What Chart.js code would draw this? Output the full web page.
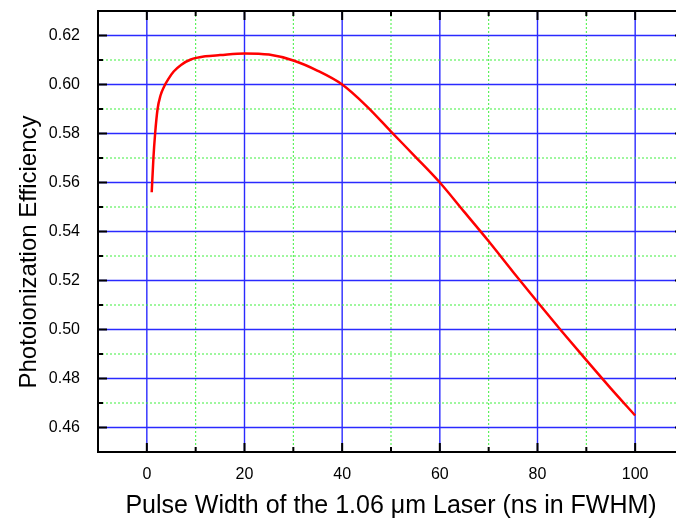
<!DOCTYPE html>
<html>
<head>
<meta charset="utf-8">
<script src="https://cdn.jsdelivr.net/npm/chart.js@4/dist/chart.umd.min.js"></script>
<style>
  html, body { margin: 0; padding: 0; background: #fff; overflow: hidden; }
  #wrap { width: 690px; height: 523px; }
</style>
</head>
<body>
<div id="wrap"><canvas id="effChart" width="690" height="523"></canvas></div>
<script>
// values
const pulseWidth = [1, 1.35, 1.7, 2.2, 2.8, 3.5, 4.5, 5.5, 7, 9, 12, 15, 20, 25, 30, 35, 40, 45, 50, 55, 60, 65, 70, 75, 80, 85, 90, 95, 100];
const efficiency = [0.556, 0.570, 0.580, 0.590, 0.5955, 0.599, 0.6025, 0.6053, 0.608, 0.6102, 0.6115, 0.612, 0.6127, 0.6122, 0.6098, 0.6056, 0.600, 0.5912, 0.5808, 0.5705, 0.560, 0.548, 0.536, 0.5235, 0.5112, 0.4992, 0.4875, 0.476, 0.4649];
const xLabels = [0, 20, 40, 60, 80, 100];
const yLabels = [0.46, 0.48, 0.50, 0.52, 0.54, 0.56, 0.58, 0.60, 0.62];
const yTitle = 'Photoionization Efficiency';

const FONT = 'Arial, "Liberation Sans", sans-serif';

// grid, frame and inward tick marks, drawn from the chart's own scales
const framePlugin = {
  id: 'frame',
  beforeDatasetsDraw(chart) {
    const {ctx, chartArea: a, scales: {x, y}} = chart;
    ctx.save();
    x.ticks.forEach(t => {
      const v = Math.round(t.value);
      if (v <= x.min || v >= x.max) return;
      const px = x.getPixelForValue(v);
      ctx.beginPath();
      if (v % 20 === 0) { ctx.strokeStyle = '#2a2aff'; ctx.lineWidth = 1.4; ctx.setLineDash([]); }
      else { ctx.strokeStyle = '#3ef03e'; ctx.lineWidth = 1; ctx.setLineDash([2, 2]); }
      ctx.moveTo(px, a.top); ctx.lineTo(px, a.bottom); ctx.stroke();
    });
    y.ticks.forEach(t => {
      const k = Math.round(t.value * 100);
      if (k <= Math.round(y.min * 100) || k >= Math.round(y.max * 100)) return;
      const py = y.getPixelForValue(k / 100);
      ctx.beginPath();
      if (k % 2 === 0) { ctx.strokeStyle = '#2a2aff'; ctx.lineWidth = 1.4; ctx.setLineDash([]); }
      else { ctx.strokeStyle = '#3ef03e'; ctx.lineWidth = 1; ctx.setLineDash([2, 2]); }
      ctx.moveTo(a.left, py); ctx.lineTo(a.right, py); ctx.stroke();
    });
    ctx.restore();
  },
  afterDatasetsDraw(chart) {
    const {ctx, chartArea: a, scales: {x, y}} = chart;
    ctx.save();
    ctx.strokeStyle = '#000';
    ctx.lineWidth = 2;
    ctx.strokeRect(a.left, a.top, a.right - a.left, a.bottom - a.top);
    x.ticks.forEach(t => {
      const v = Math.round(t.value);
      if (v <= x.min || v >= x.max) return;
      const len = v % 20 === 0 ? 9 : 5;
      const px = x.getPixelForValue(v);
      ctx.beginPath();
      ctx.moveTo(px, a.bottom); ctx.lineTo(px, a.bottom - len);
      ctx.moveTo(px, a.top); ctx.lineTo(px, a.top + len);
      ctx.stroke();
    });
    y.ticks.forEach(t => {
      const k = Math.round(t.value * 100);
      if (k <= Math.round(y.min * 100) || k >= Math.round(y.max * 100)) return;
      const len = k % 2 === 0 ? 9 : 5;
      const py = y.getPixelForValue(k / 100);
      ctx.beginPath();
      ctx.moveTo(a.left, py); ctx.lineTo(a.left + len, py);
      ctx.moveTo(a.right, py); ctx.lineTo(a.right - len, py);
      ctx.stroke();
    });
    // y axis title, sits a bit below the plot centre in the original
    ctx.translate(29, 252);
    ctx.rotate(-Math.PI / 2);
    ctx.fillStyle = '#000';
    ctx.font = '24px ' + FONT;
    ctx.textAlign = 'center';
    ctx.textBaseline = 'middle';
    ctx.fillText(yTitle, 0, 0);
    ctx.restore();
  }
};

new Chart(document.getElementById('effChart'), {
  type: 'line',
  data: {
    datasets: [{
      data: pulseWidth.map((p, i) => ({x: p, y: efficiency[i]})),
      borderColor: '#ff0000',
      borderWidth: 2.5,
      pointRadius: 0,
      fill: false,
      cubicInterpolationMode: 'monotone'
    }]
  },
  options: {
    responsive: false,
    animation: false,
    layout: { padding: { top: 11, right: 6, left: 0, bottom: 0 } },
    plugins: { legend: { display: false }, tooltip: { enabled: false } },
    scales: {
      x: {
        type: 'linear',
        min: -10, max: 110,
        grid: { display: false, drawTicks: false },
        border: { display: false },
        ticks: {
          stepSize: 10, autoSkip: false, maxRotation: 0, padding: 13,
          color: '#000', font: { family: FONT, size: 16 },
          callback: v => xLabels.includes(Math.round(v)) ? String(Math.round(v)) : ''
        },
        title: {
          display: true,
          text: 'Pulse Width of the 1.06 \u03bcm Laser (ns in FWHM)',
          color: '#000', font: { family: FONT, size: 25 },
          padding: { top: 0, bottom: 2 }
        },
        afterFit(s) { s.height = 71; s.paddingLeft = 0; s.paddingRight = 0; }
      },
      y: {
        min: 0.45, max: 0.63,
        grid: { display: false, drawTicks: false },
        border: { display: false },
        ticks: {
          stepSize: 0.01, autoSkip: false, padding: 18,
          color: '#000', font: { family: FONT, size: 16 },
          callback: v => {
            const k = Math.round(v * 100);
            return yLabels.some(l => Math.round(l * 100) === k) ? (k / 100).toFixed(2) : '';
          }
        },
        title: { display: false },
        afterFit(s) { s.width = 98; s.paddingTop = 0; s.paddingBottom = 0; }
      }
    }
  },
  plugins: [framePlugin]
});
</script>
</body>
</html>
